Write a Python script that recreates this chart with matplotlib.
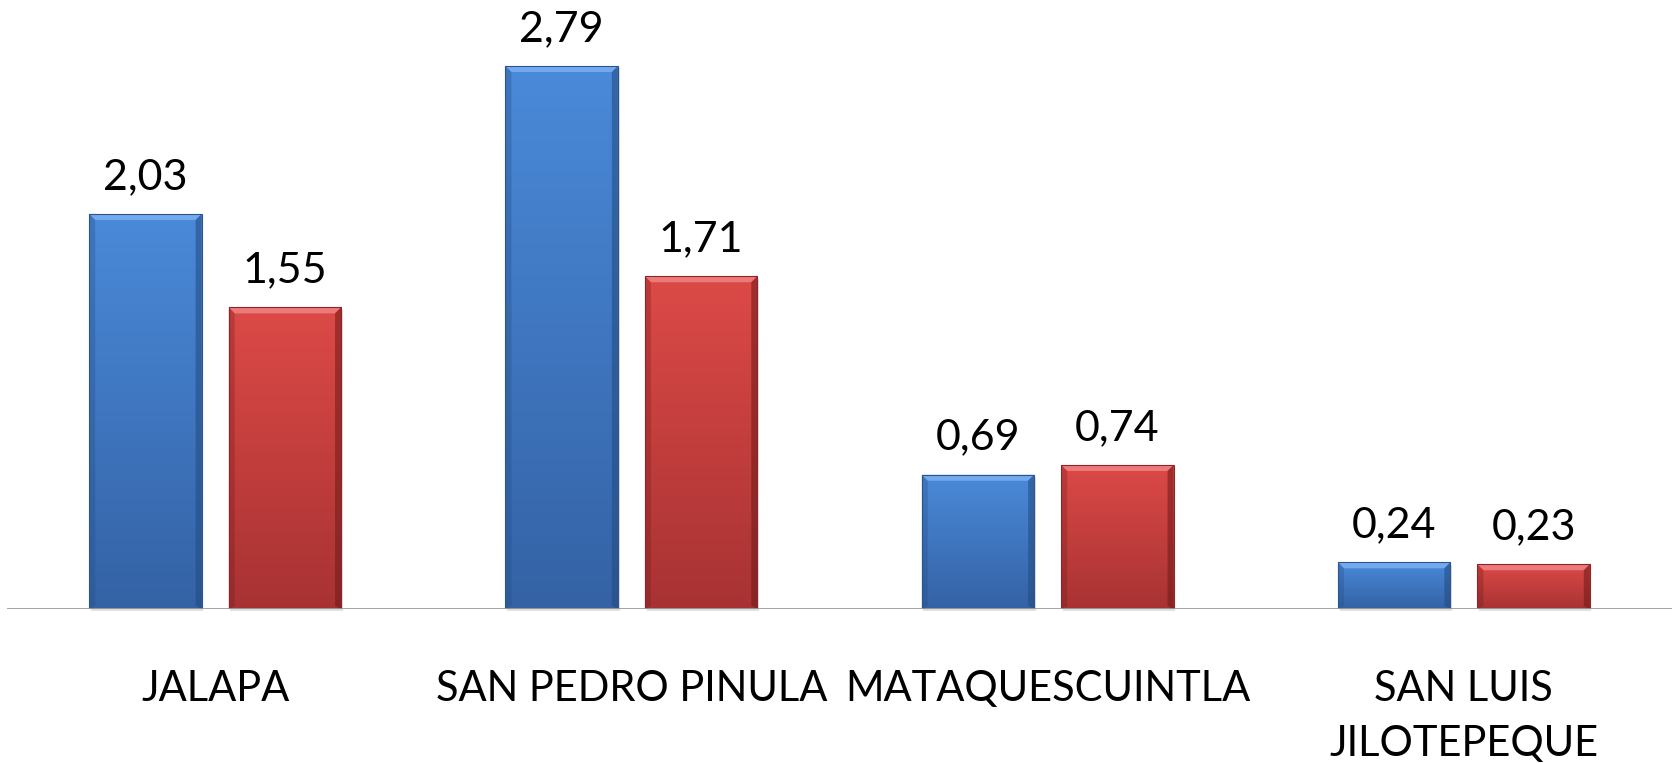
import matplotlib
matplotlib.use("Agg")
import matplotlib.pyplot as plt
import numpy as np
from matplotlib.colors import LinearSegmentedColormap
from matplotlib.patches import Polygon

categories = ["JALAPA", "SAN PEDRO PINULA", "MATAQUESCUINTLA", "SAN LUIS\nJILOTEPEQUE"]
series_blue = [2.03, 2.79, 0.69, 0.24]
series_red = [1.55, 1.71, 0.74, 0.23]
label_blue = ["2,03", "2,79", "0,69", "0,24"]
label_red = ["1,55", "1,71", "0,74", "0,23"]

W, H = 1672, 763
fig = plt.figure(figsize=(W / 100, H / 100), dpi=100)
base_px = 609
ax = fig.add_axes([7 / W, (H - base_px) / H, (W - 7) / W, base_px / H])
ymax = base_px / 194.6
ax.set_xlim(-0.5, len(categories) - 0.5)
ax.set_ylim(0, ymax)

x = np.arange(len(categories))
bw = 0.27
off = (bw + 0.065) / 2

FONT = "Lato"

def styled_bars(xs, vals, top, bottom, edge, light, side):
    bars = ax.bar(xs, vals, width=bw, color="none", edgecolor="none", zorder=3)
    cmap = LinearSegmentedColormap.from_list("g", [bottom, top])
    grad = np.linspace(0, 1, 256).reshape(-1, 1)
    bx = 6 / 416.0
    by = 6 / 194.6
    for b in bars:
        x0, y0 = b.get_x(), b.get_y()
        w, h = b.get_width(), b.get_height()
        sh = plt.Rectangle((x0 + 0.004, y0 - 0.012), w, h, facecolor="#000000",
                           alpha=0.12, edgecolor="none", zorder=2, clip_on=False)
        ax.add_patch(sh)
        im = ax.imshow(grad, extent=(x0, x0 + w, y0, y0 + h), origin="lower",
                       cmap=cmap, aspect="auto", zorder=3, interpolation="bicubic",
                       vmin=0, vmax=1)
        im.set_clip_path(b)
        ax.add_patch(Polygon([(x0, y0 + h), (x0 + w, y0 + h), (x0 + w - bx, y0 + h - by),
                              (x0 + bx, y0 + h - by)], closed=True, facecolor=light,
                             edgecolor="none", zorder=4, alpha=0.9))
        ax.add_patch(Polygon([(x0 + w, y0 + h), (x0 + w, y0), (x0 + w - bx, y0 + by * 0.5),
                              (x0 + w - bx, y0 + h - by)], closed=True, facecolor=side,
                             edgecolor="none", zorder=4, alpha=0.55))
        ax.add_patch(Polygon([(x0, y0 + h), (x0, y0), (x0 + bx, y0 + by * 0.5),
                              (x0 + bx, y0 + h - by)], closed=True, facecolor=side,
                             edgecolor="none", zorder=4, alpha=0.3))
        ax.add_patch(plt.Rectangle((x0, y0), w, h, facecolor="none", edgecolor=edge,
                                   linewidth=0.8, zorder=5))
    return bars

bb = styled_bars(x - off, series_blue, "#4a8ad9", "#3462a5", "#2a5590", "#79aef0", "#234a80")
rb = styled_bars(x + off, series_red, "#dc4a47", "#a83233", "#8e2627", "#f08080", "#6e1a1a")

for bars, labs in ((bb, label_blue), (rb, label_red)):
    for b, t in zip(bars, labs):
        ax.annotate(t, (b.get_x() + b.get_width() / 2, b.get_height()),
                    xytext=(0, 13), textcoords="offset points", ha="center", va="bottom",
                    fontsize=31, family=FONT, color="#000000")

ax.axhline(0, color="#9a9a9a", linewidth=2, zorder=6)
for s in ax.spines.values():
    s.set_visible(False)
ax.set_yticks([])
ax.set_xticks(x)
ax.set_xticklabels(categories, fontsize=30, family=FONT, linespacing=1.55)
ax.tick_params(axis="x", length=0, pad=44)

fig.savefig("out.png", dpi=100, facecolor="white")
